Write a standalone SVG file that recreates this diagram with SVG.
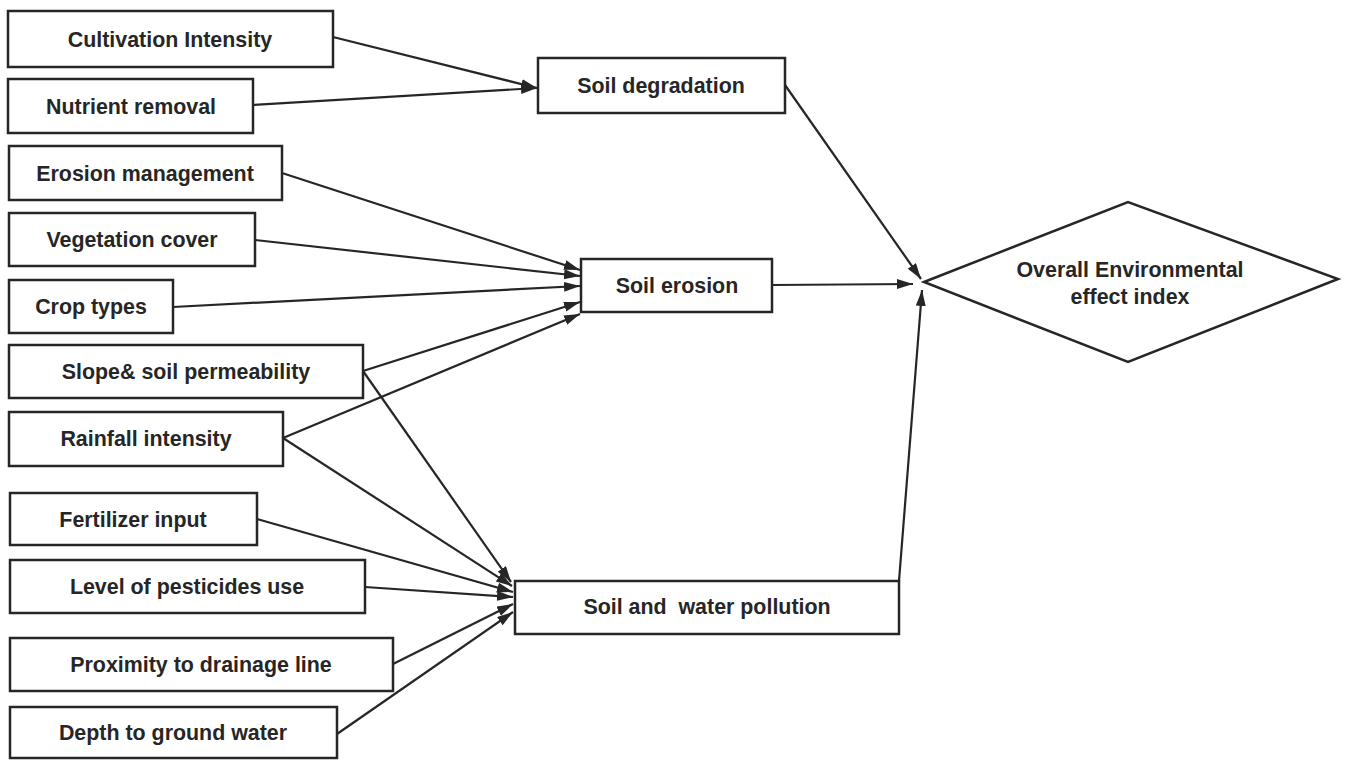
<svg xmlns="http://www.w3.org/2000/svg" width="1347" height="760" viewBox="0 0 1347 760">
<style>
.box{fill:#fff;stroke:#262626;stroke-width:2.5}
.t{font-family:"Liberation Sans",Arial,sans-serif;font-weight:bold;font-size:21.4px;fill:#262626;text-anchor:middle}
.c{fill:none;stroke:#262626;stroke-width:2.2}
</style>
<defs>
<marker id="ah" markerUnits="userSpaceOnUse" markerWidth="18" markerHeight="12" refX="16" refY="5" orient="auto">
<path d="M0,0 L16,5 L0,10 Z" fill="#262626"/>
</marker>
</defs>
<rect width="1347" height="760" fill="#fff"/>
<g id="connectors">
<line class="c" x1="333" y1="37" x2="537" y2="88" marker-end="url(#ah)"/>
<line class="c" x1="253" y1="105" x2="537" y2="88" marker-end="url(#ah)"/>
<line class="c" x1="282" y1="173" x2="580" y2="270" marker-end="url(#ah)"/>
<line class="c" x1="255" y1="240" x2="580" y2="276" marker-end="url(#ah)"/>
<line class="c" x1="173" y1="307" x2="580" y2="286" marker-end="url(#ah)"/>
<line class="c" x1="363" y1="371" x2="580" y2="302" marker-end="url(#ah)"/>
<line class="c" x1="283" y1="438" x2="580" y2="314" marker-end="url(#ah)"/>
<line class="c" x1="363" y1="371" x2="511" y2="582" marker-end="url(#ah)"/>
<line class="c" x1="283" y1="438" x2="512" y2="586" marker-end="url(#ah)"/>
<line class="c" x1="257" y1="519" x2="513" y2="592" marker-end="url(#ah)"/>
<line class="c" x1="365" y1="587" x2="513" y2="597" marker-end="url(#ah)"/>
<line class="c" x1="393" y1="664" x2="513" y2="604" marker-end="url(#ah)"/>
<line class="c" x1="337" y1="734" x2="513" y2="612" marker-end="url(#ah)"/>
<line class="c" x1="785" y1="85" x2="921" y2="279" marker-end="url(#ah)"/>
<line class="c" x1="772" y1="285" x2="913" y2="284" marker-end="url(#ah)"/>
<line class="c" x1="899" y1="581" x2="922" y2="290" marker-end="url(#ah)"/>
</g>
<g id="n1"><rect class="box" x="8" y="11" width="325" height="56"/><text class="t" x="170" y="47">Cultivation Intensity</text></g>
<g id="n2"><rect class="box" x="8" y="79" width="245" height="54"/><text class="t" x="131" y="114">Nutrient removal</text></g>
<g id="n3"><rect class="box" x="9" y="146" width="273" height="54"/><text class="t" x="145" y="181">Erosion management</text></g>
<g id="n4"><rect class="box" x="9" y="213" width="246" height="53"/><text class="t" x="132" y="247">Vegetation cover</text></g>
<g id="n5"><rect class="box" x="9" y="280" width="164" height="53"/><text class="t" x="91" y="314">Crop types</text></g>
<g id="n6"><rect class="box" x="9" y="345" width="354" height="53"/><text class="t" x="186" y="379">Slope&amp; soil permeability</text></g>
<g id="n7"><rect class="box" x="9" y="412" width="274" height="54"/><text class="t" x="146" y="446">Rainfall intensity</text></g>
<g id="n8"><rect class="box" x="10" y="493" width="247" height="52"/><text class="t" x="133" y="527">Fertilizer input</text></g>
<g id="n9"><rect class="box" x="10" y="560" width="355" height="53"/><text class="t" x="187" y="594">Level of pesticides use</text></g>
<g id="n10"><rect class="box" x="10" y="638" width="383" height="53"/><text class="t" x="201" y="672">Proximity to drainage line</text></g>
<g id="n11"><rect class="box" x="10" y="707" width="327" height="51"/><text class="t" x="173" y="740">Depth to ground water</text></g>
<g id="soil-degradation"><rect class="box" x="538" y="58" width="247" height="55"/><text class="t" x="661" y="93">Soil degradation</text></g>
<g id="soil-erosion"><rect class="box" x="581" y="259" width="191" height="53"/><text class="t" x="677" y="293">Soil erosion</text></g>
<g id="soil-water-pollution"><rect class="box" x="515" y="581" width="384" height="53"/><text class="t" x="707" y="614" xml:space="preserve">Soil and  water pollution</text></g>
<g id="overall-index"><polygon class="box" points="924,282 1128,202 1338,279 1128,362"/><text class="t" x="1130" y="277">Overall Environmental</text><text class="t" x="1130" y="304">effect index</text></g>
</svg>
